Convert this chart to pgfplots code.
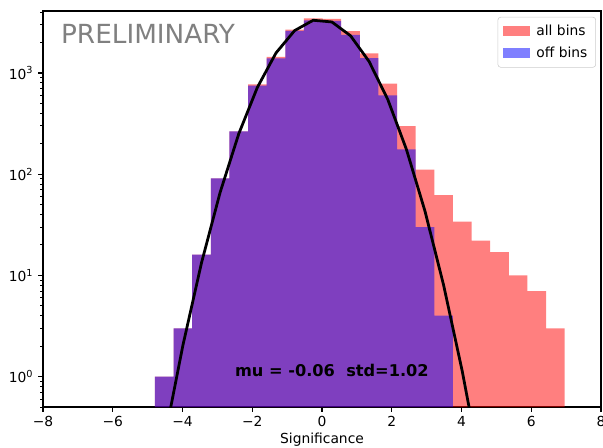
\documentclass[border=0pt]{standalone}
\usepackage{fontspec}
\setmainfont{DejaVu Sans}
\usepackage{pgfplots}
\pgfplotsset{compat=1.18}
\begin{document}
\begin{tikzpicture}
\begin{axis}[
  width=5.58in, height=3.96in, scale only axis,
  xmin=-8, xmax=8, ymin=0.5, ymax=4100,
  ymode=log, log origin=infty,
  xtick={-8,-6,-4,-2,0,2,4,6,8},
  xticklabels={−8,−6,−4,−2,0,2,4,6,8},
  ytick={1,10,100,1000},
  yticklabels={10\textsuperscript{0},10\textsuperscript{1},10\textsuperscript{2},10\textsuperscript{3}},
  minor ytick={0.5,0.6,0.7,0.8,0.9,2,3,4,5,6,7,8,9,20,30,40,50,60,70,80,90,200,300,400,500,600,700,800,900,2000,3000,4000},
  tick align=outside, tick pos=left,
  major tick length=3.5pt, minor tick length=2pt,
  every major tick/.append style={line width=0.8pt, black},
  every minor tick/.append style={line width=0.6pt, black},
  axis line style={line width=0.8pt},
  xlabel={Significance},
  xlabel style={yshift=2.5pt},
  tick label style={font=\fontsize{10}{12}\selectfont},
  label style={font=\fontsize{10}{12}\selectfont},
  /pgf/number format/assume math mode=true,
  legend style={at={(0.991,0.985)}, anchor=north east, draw=black!20, rounded corners=2pt,
    font=\fontsize{10}{12}\selectfont, inner xsep=4pt, inner ysep=3.5pt, row sep=3pt},
  legend cell align=left,
]
\coordinate (bl) at (rel axis cs:0,0);
\coordinate (tr) at (rel axis cs:1,1);
\addplot[ybar interval, fill=red, fill opacity=0.5, draw=none,
  legend image code/.code={\fill[red, fill opacity=0.5, sharp corners] (0in,-0.05in) rectangle (0.267in,0.055in);}]
  coordinates {(-4.790,1) (-4.256,3) (-3.722,16) (-3.188,91) (-2.654,265) (-2.120,773) (-1.586,1440) (-1.052,2690) (-0.518,3475) (0.016,3420) (0.550,2600) (1.084,1567) (1.618,785) (2.152,299) (2.686,111) (3.220,62) (3.754,34) (4.288,22) (4.822,17) (5.356,10) (5.890,7) (6.424,3) (6.958,3)};
\addlegendentry{\hspace{2.5pt}all bins}
\addplot[ybar interval, fill=blue, fill opacity=0.5, draw=none,
  legend image code/.code={\fill[blue, fill opacity=0.5, sharp corners] (0in,-0.05in) rectangle (0.267in,0.055in);}]
  coordinates {(-4.790,1) (-4.256,3) (-3.722,16) (-3.188,91) (-2.654,265) (-2.120,750) (-1.586,1397) (-1.052,2602) (-0.518,3320) (0.016,3268) (0.550,2377) (1.084,1404) (1.618,602) (2.152,176) (2.686,30) (3.220,4) (3.754,4)};
\addlegendentry{\hspace{2.5pt}off bins}
\addplot[black, line width=2pt, mark=none, forget plot]
  coordinates {(-4.523,0.235) (-3.989,2.03) (-3.455,13.3) (-2.921,66.1) (-2.387,250.6) (-1.853,721) (-1.319,1578) (-0.785,2626) (-0.251,3321) (0.283,3194) (0.817,2336) (1.351,1298) (1.885,548.6) (2.419,176.4) (2.953,43.1) (3.487,8.00) (4.021,1.13) (4.555,0.121) (5.089,0.0099) (5.623,0.00061) (6.157,0.000029) (6.691,0.00000105)};
\node[anchor=base west, inner sep=0pt, font=\fontsize{19}{23}\selectfont, text=gray] at (rel axis cs:0.032,0.917) {PRELIMINARY};
\node[anchor=base west, inner sep=0pt, font=\bfseries\fontsize{11.7}{14}\selectfont] at (axis cs:-2.5,1) {mu = -0.06\ \ std=1.02};
\end{axis}
\pgfresetboundingbox
\path[use as bounding box] ([shift={(-0.43in,-0.41in)}]bl) rectangle ([shift={(0.02in,0.11in)}]tr);
\end{tikzpicture}
\end{document}
